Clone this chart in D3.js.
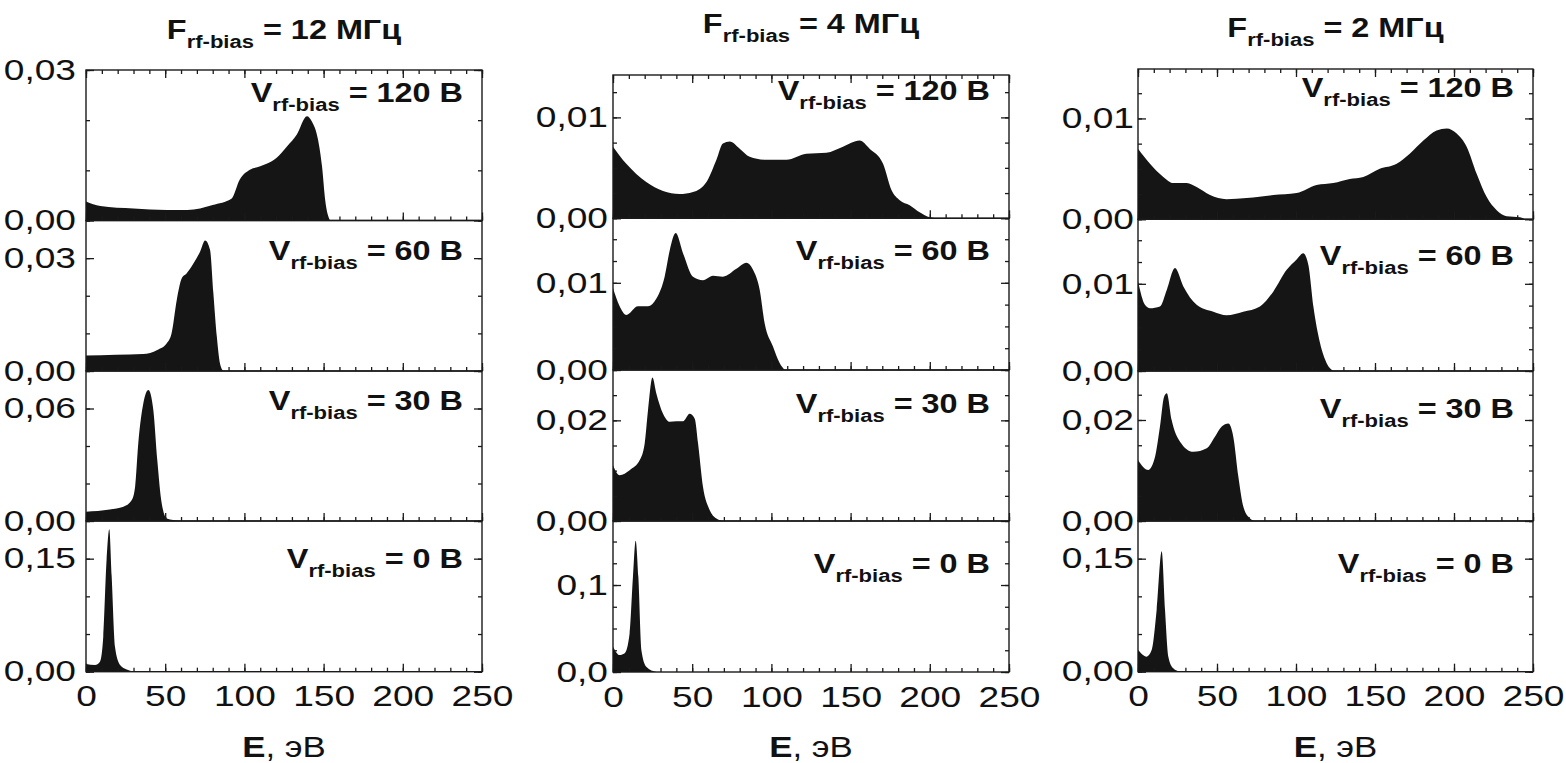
<!DOCTYPE html>
<html>
<head>
<meta charset="utf-8">
<script src="https://cdn.jsdelivr.net/npm/d3@7"></script>
<style>
  body { margin: 0; background: #fff; }
  svg { display: block; }
  text { white-space: pre; }
</style>
</head>
<body>
<svg id="chart" width="1566" height="763"></svg>
<script>
// Ion energy distributions, E (eV) vs normalised flux, for three bias frequencies
// and four bias amplitudes.

const energyMajor = [0, 50, 100, 150, 200, 250];
const energyMinor = d3.range(0, 251, 10);
const frequencies = ["12 МГц", "4 МГц", "2 МГц"];
const voltages = ["120 В", "60 В", "30 В", "0 В"];

// 12 MHz
const f12_v120 = [[0,0.0038],[9,0.0029],[30,0.0024],[51,0.0021],[64,0.0021],[80,0.0031],[92,0.0044],[97,0.0081],[103.5,0.0101],[110,0.0108],[114,0.0113],[120,0.0124],[127,0.0148],[133,0.0171],[139.5,0.0208],[142.5,0.0198],[146.5,0.0161],[149,0.0108],[151,0.0041],[154,0]];
const f12_v60 = [[0,0.0041],[19,0.0043],[36,0.0045],[45,0.0056],[51,0.0074],[54,0.01],[57.3,0.0189],[60.4,0.0246],[63.6,0.026],[67.8,0.0286],[72,0.0317],[75.2,0.0347],[78.3,0.0322],[80.4,0.0207],[82.6,0.0091],[84.6,0.002],[86.7,0]];
const f12_v30 = [[0,0.005],[15,0.0062],[23.6,0.0076],[28.9,0.0112],[31,0.0183],[33,0.0414],[36.2,0.0628],[39.4,0.0699],[42.5,0.0592],[45,0.0325],[47.8,0.0094],[51,0.0014],[59,0.0002],[62,0]];
const f12_v0 = [[0,0.0103],[5.7,0.0089],[8.8,0.0133],[10.9,0.0467],[13,0.149],[14.7,0.189],[16.2,0.127],[18.3,0.033],[21.5,0.0089],[25.7,0.003],[30,0]];

// 4 MHz
const f4_v120 = [[0,0.0071],[8.4,0.0054],[21,0.0036],[31.6,0.0027],[42,0.0024],[50.5,0.0026],[59,0.0036],[65.3,0.0058],[69.4,0.0074],[73.7,0.0076],[80,0.0069],[86.3,0.0061],[96.8,0.0058],[109.5,0.0058],[122,0.0064],[134.7,0.0065],[145.2,0.0071],[155.7,0.0077],[162,0.0069],[170.5,0.0054],[175.8,0.0028],[181,0.0018],[187.3,0.0013],[193.6,0.0006],[200,0.0001],[206,0]];
const f4_v60 = [[0,0.0094],[4.2,0.0073],[8.4,0.0063],[15.8,0.0073],[22.1,0.0073],[27.4,0.0082],[32.6,0.0107],[35.8,0.0137],[39.6,0.0157],[44.2,0.0134],[50.5,0.0107],[56.8,0.0103],[63.1,0.0108],[69.4,0.0107],[77.9,0.0116],[84.2,0.0123],[88.4,0.0115],[92.6,0.0092],[95.8,0.0053],[101,0.0027],[105.2,0.0008],[108.4,0]];
const f4_v30 = [[0,0.0111],[4.2,0.0091],[10.5,0.0101],[16.9,0.0121],[20,0.0154],[22.1,0.022],[24.9,0.0285],[27.4,0.0253],[31.6,0.0213],[35.8,0.0197],[40,0.0198],[44.2,0.0198],[48.4,0.0213],[51.6,0.0203],[53.7,0.0154],[56.8,0.0068],[61,0.0022],[65.3,0.0005],[69.4,0]];
const f4_v0 = [[0,0.0291],[4.2,0.0195],[7.4,0.0215],[10.5,0.0445],[12.6,0.1095],[14.3,0.151],[16,0.1095],[17.9,0.0253],[21,0.0061],[27.4,0]];

// 2 MHz
const f2_v120 = [[0,0.007],[7.6,0.0055],[16,0.0042],[22.3,0.0036],[30.8,0.0036],[37.1,0.0032],[45.6,0.0024],[56,0.002],[68.8,0.0021],[85.6,0.0024],[100.4,0.0026],[113,0.0034],[123.6,0.0036],[134,0.004],[142.6,0.0042],[153,0.005],[163.7,0.0055],[172,0.0065],[180.6,0.0078],[189,0.0088],[195.4,0.009],[201.7,0.0085],[208,0.0072],[214.4,0.0045],[220.7,0.0022],[227,0.0009],[233.3,0.0003],[241.8,0.0002],[245,0]];
const f2_v60 = [[0,0.0103],[4.4,0.0076],[7.6,0.0072],[13.9,0.0074],[18.2,0.0093],[23.4,0.0118],[28.7,0.0097],[37.1,0.0076],[47.7,0.0068],[56.1,0.0064],[66.6,0.0068],[77.2,0.0074],[85.6,0.0091],[94.1,0.0116],[100.4,0.0128],[104.6,0.0135],[107.8,0.0122],[111,0.0074],[115.2,0.0032],[119.4,0.0009],[123.6,0]];
const f2_v30 = [[0,0.0121],[6.5,0.0101],[10.8,0.0127],[13.9,0.0187],[16.5,0.0246],[18.2,0.0253],[21.3,0.02],[26.6,0.0157],[35,0.0137],[43.5,0.0144],[48.7,0.0167],[53,0.0187],[57.2,0.0193],[60.3,0.0167],[63.5,0.0088],[66.7,0.0028],[70.9,0.0005],[74,0]];
const f2_v0 = [[0,0.029],[5.5,0.02],[8.7,0.029],[11.8,0.082],[15,0.16],[17.1,0.082],[19.2,0.02],[22.3,0.0045],[26.6,0]];

const seriesGrid = [
  [f12_v120, f12_v60, f12_v30, f12_v0],
  [f4_v120, f4_v60, f4_v30, f4_v0],
  [f2_v120, f2_v60, f2_v30, f2_v0]
];

// y-axis ranges and ticks per panel (column x row)
const yMaxima = [
  [0.03, 0.04, 0.08, 0.2],
  [0.0142, 0.0174, 0.03, 0.1736],
  [0.0149, 0.0174, 0.0297, 0.2]
];
const yMajorTicks = [
  [[0, 0.03], [0, 0.03], [0, 0.06], [0, 0.15]],
  [[0, 0.01], [0, 0.01], [0, 0.02], [0, 0.1]],
  [[0, 0.01], [0, 0.01], [0, 0.02], [0, 0.15]]
];
const yMinorSteps = [
  [0.01, 0.01, 0.02, 0.05],
  [0.0025, 0.0025, 0.005, 0.025],
  [0.0025, 0.0025, 0.005, 0.05]
];
const yDecimals = [
  [2, 2, 2, 2],
  [2, 2, 2, 1],
  [2, 2, 2, 2]
];

// ---- layout ----
const SX = 1.2;                       // horizontal glyph stretch for bold labels
const TICK_SX = 1.28;                 // horizontal glyph stretch for tick numbers
const FONT = "'Liberation Sans', Arial, sans-serif";
const INK = "#1a1a1a";
const FILL = "#151515";
const colLeft = [86, 613, 1138];
const colRight = [482, 1009, 1533];
const rowEdges = [
  [70, 220.5, 371, 521, 671.7],
  [75, 218.3, 370, 521, 672],
  [69, 219.3, 371, 521, 671.7]
];
const titleBaseline = [39, 33, 37];
const labelBaseline = [[102, 260, 410, 568], [100, 260, 413, 573], [97, 265, 418, 573]];
const yLabelGap = [10, 5, 4];
const MAJOR = 8, MINOR = 4;

const svg = d3.select("#chart");
const defs = svg.append("defs");

function subLabel(x, yb, anchor, main, sub, rest, size) {
  const t = svg.append("text")
    .attr("transform", `translate(${x},${yb}) scale(${SX},1)`)
    .attr("text-anchor", anchor)
    .attr("font-family", FONT)
    .attr("font-weight", "bold")
    .attr("font-size", size)
    .attr("fill", "#111");
  t.append("tspan").text(main);
  t.append("tspan").attr("font-size", size * 0.68).attr("dy", 9).text(sub);
  t.append("tspan").attr("dy", -9).text(rest);
}

function styleAxis(g) {
  g.select(".domain").remove();
  g.attr("color", INK).attr("font-family", FONT);
  g.selectAll("line").attr("stroke-width", 1.3);
}

seriesGrid.forEach((column, c) => {
  const x = d3.scaleLinear().domain([0, 250]).range([colLeft[c], colRight[c]]);
  const cx = (colLeft[c] + colRight[c]) / 2;

  subLabel(cx, titleBaseline[c], "middle", "F", "rf-bias", " = " + frequencies[c], 27);

  column.forEach((data, r) => {
    const top = rowEdges[c][r], bottom = rowEdges[c][r + 1];
    const y = d3.scaleLinear().domain([0, yMaxima[c][r]]).range([bottom, top]);
    const clipId = `clip-${c}-${r}`;
    defs.append("clipPath").attr("id", clipId)
      .append("rect").attr("x", x(0)).attr("y", top)
      .attr("width", x(250) - x(0)).attr("height", bottom - top);

    const area = d3.area()
      .x(d => x(d[0]))
      .y0(y(0))
      .y1(d => y(d[1]))
      .curve(d3.curveMonotoneX);

    svg.append("path")
      .datum(data)
      .attr("clip-path", `url(#${clipId})`)
      .attr("fill", FILL)
      .attr("d", area);

    // x ticks on the lower edge (pointing inward)
    svg.append("g").attr("transform", `translate(0,${bottom})`)
      .call(d3.axisBottom(x).tickValues(energyMinor).tickSize(-MINOR).tickFormat(""))
      .call(styleAxis);
    const xb = svg.append("g").attr("transform", `translate(0,${bottom})`)
      .call(d3.axisBottom(x).tickValues(energyMajor).tickSize(-MAJOR).tickPadding(14)
        .tickFormat(r === 3 ? d3.format("d") : ""))
      .call(styleAxis);
    xb.selectAll("text").attr("font-size", 29).attr("fill", "#111")
      .attr("transform", `scale(${TICK_SX},1)`);

    if (r === 0) {
      svg.append("g").attr("transform", `translate(0,${top})`)
        .call(d3.axisTop(x).tickValues(energyMinor).tickSize(-MINOR).tickFormat(""))
        .call(styleAxis);
      svg.append("g").attr("transform", `translate(0,${top})`)
        .call(d3.axisTop(x).tickValues(energyMajor).tickSize(-MAJOR).tickFormat(""))
        .call(styleAxis);
    }

    // y ticks on both sides
    const minorVals = d3.range(0, yMaxima[c][r] + 1e-9, yMinorSteps[c][r]);
    const fmt = v => v.toFixed(yDecimals[c][r]).replace(".", ",");
    svg.append("g").attr("transform", `translate(${x(0)},0)`)
      .call(d3.axisLeft(y).tickValues(minorVals).tickSize(-MINOR).tickFormat(""))
      .call(styleAxis);
    const yl = svg.append("g").attr("transform", `translate(${x(0)},0)`)
      .call(d3.axisLeft(y).tickValues(yMajorTicks[c][r]).tickSize(-MAJOR)
        .tickPadding(yLabelGap[c]).tickFormat(fmt))
      .call(styleAxis);
    yl.selectAll("text").attr("font-size", 29).attr("fill", "#111")
      .attr("x", -yLabelGap[c] / TICK_SX)
      .attr("transform", `scale(${TICK_SX},1)`);
    svg.append("g").attr("transform", `translate(${x(250)},0)`)
      .call(d3.axisRight(y).tickValues(minorVals).tickSize(-MINOR).tickFormat(""))
      .call(styleAxis);
    svg.append("g").attr("transform", `translate(${x(250)},0)`)
      .call(d3.axisRight(y).tickValues(yMajorTicks[c][r]).tickSize(-MAJOR).tickFormat(""))
      .call(styleAxis);

    // panel frame
    svg.append("rect")
      .attr("x", x(0)).attr("y", top)
      .attr("width", x(250) - x(0)).attr("height", bottom - top)
      .attr("fill", "none").attr("stroke", INK).attr("stroke-width", 1.4);

    subLabel(x(250) - 19, labelBaseline[c][r], "end", "V", "rf-bias", " = " + voltages[r], 27);
  });

  // energy axis title
  const t = svg.append("text")
    .attr("transform", `translate(${cx},757) scale(${SX},1)`)
    .attr("text-anchor", "middle")
    .attr("font-family", FONT)
    .attr("font-size", 29)
    .attr("fill", "#111");
  t.append("tspan").attr("font-weight", "bold").text("E");
  t.append("tspan").text(", эВ");
});
</script>
</body>
</html>
